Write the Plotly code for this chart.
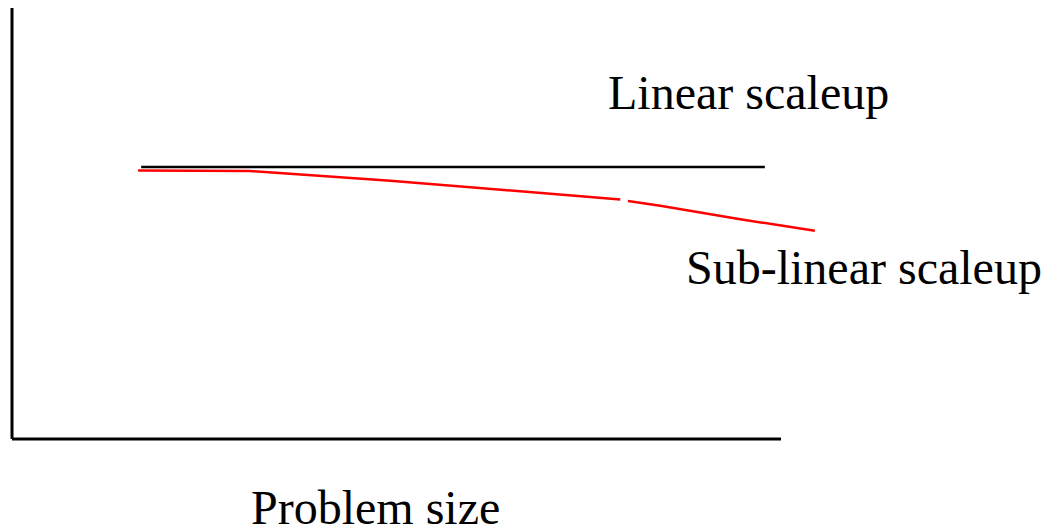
import plotly.graph_objects as go

# Schematic data (arbitrary units: problem size 0-100, performance 0-100)
linear_x = [16.8, 97.9]
linear_y = [63.1, 63.1]

sublinear_seg1_x = [16.4, 30.9, 49.2, 73.9, 79.1]
sublinear_seg1_y = [62.3, 62.2, 59.9, 56.4, 55.6]
sublinear_seg2_x = [80.1, 84.3, 94.7, 104.4]
sublinear_seg2_y = [55.2, 54.1, 51.0, 48.3]

labels = ["Linear scaleup", "Sub-linear scaleup", "Problem size"]
label_x = [95.8, 110.8, 47.3]
label_y = [80.5, 39.7, -15.8]

fig = go.Figure()
fig.add_trace(go.Scatter(x=linear_x, y=linear_y, mode="lines",
                         line=dict(color="black", width=2.5), hoverinfo="skip"))
fig.add_trace(go.Scatter(x=sublinear_seg1_x, y=sublinear_seg1_y, mode="lines",
                         line=dict(color="#ff0000", width=2.5), hoverinfo="skip"))
fig.add_trace(go.Scatter(x=sublinear_seg2_x, y=sublinear_seg2_y, mode="lines",
                         line=dict(color="#ff0000", width=2.5), hoverinfo="skip"))

# axes lines
fig.add_shape(type="line", x0=0, y0=0, x1=0, y1=100, xref="x", yref="y",
              line=dict(color="black", width=3))
fig.add_shape(type="line", x0=0, y0=0, x1=100, y1=0, xref="x", yref="y",
              line=dict(color="black", width=3))

for t, x, y in zip(labels, label_x, label_y):
    fig.add_annotation(x=x, y=y, xref="x", yref="y", text=t, showarrow=False,
                       xanchor="center", yanchor="middle",
                       font=dict(family="Liberation Serif, Times New Roman, serif",
                                 size=48, color="black"))

fig.update_layout(
    width=1049, height=524,
    margin=dict(l=0, r=0, t=0, b=0),
    paper_bgcolor="white", plot_bgcolor="white",
    showlegend=False,
    xaxis=dict(range=[-1.56, 134.85], visible=False, fixedrange=True),
    yaxis=dict(range=[-19.72, 101.86], visible=False, fixedrange=True),
)

fig.write_html("out.html",
               config={"displayModeBar": False, "staticPlot": True},
               post_script="document.body.style.margin='0';document.body.style.overflow='hidden';")
